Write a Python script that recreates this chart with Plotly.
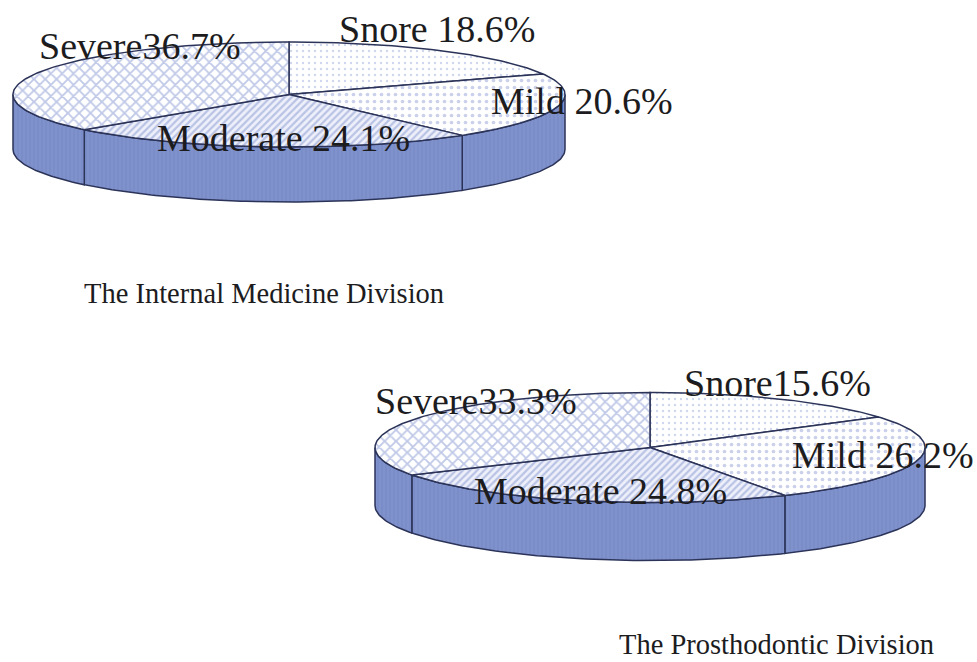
import numpy as np
import plotly.graph_objects as go

# Data
categories = ["Snore", "Mild", "Moderate", "Severe"]
medicine_values = [18.6, 20.6, 24.1, 36.7]
prostho_values = [15.6, 26.2, 24.8, 33.3]
medicine_labels = ["Snore 18.6%", "Mild 20.6%", "Moderate 24.1%", "Severe36.7%"]
prostho_labels = ["Snore15.6%", "Mild 26.2%", "Moderate 24.8%", "Severe33.3%"]
medicine_title = "The Internal Medicine Division"
prostho_title = "The Prosthodontic Division"

# Styling / layout
W, H = 977, 662
EDGE = "#2b3358"
TEXT = "#1c1c1e"
FONT = "Liberation Serif"
PATTERNS = {
    "Snore": dict(shape=".", size=6, solidity=0.12, fgcolor="#a0abd9", bgcolor="white"),
    "Mild": dict(shape=".", size=7, solidity=0.22, fgcolor="#98a4d6", bgcolor="white"),
    "Moderate": dict(shape="/", size=5, solidity=0.45, fgcolor="#8495cf", bgcolor="#eef0fa"),
    "Severe": dict(shape="x", size=8, solidity=0.4, fgcolor="#8091cf", bgcolor="white"),
}
WALL = dict(shape="|", size=4, solidity=0.3, fgcolor="#6f82bf", bgcolor="#8092cc")

PIES = [
    dict(values=medicine_values, labels=medicine_labels, cx=289, cy=94.5, rx=276, ry=52.5, depth=55,
         label_pos=[(337, 29), (489, 101), (155, 138), (37, 46)]),
    dict(values=prostho_values, labels=prostho_labels, cx=650, cy=447.5, rx=275, ry=55, depth=58,
         label_pos=[(682, 383), (790, 455), (472, 491), (373, 401)]),
]

fig = go.Figure()


def rim(p, a0, a1):
    t = np.radians(np.linspace(a0, a1, max(2, int(abs(a1 - a0)) + 2)))
    return p["cx"] + p["rx"] * np.sin(t), p["cy"] - p["ry"] * np.cos(t)


def add_shape(xs, ys, pattern, width=1.5):
    fig.add_trace(go.Scatter(
        x=xs, y=ys, mode="lines", fill="toself", fillpattern=pattern,
        fillcolor=pattern["bgcolor"],
        line=dict(color=EDGE, width=width), hoverinfo="skip", showlegend=False))


annotations = []
for p in PIES:
    shares = np.array(p["values"], dtype=float)
    edges = np.concatenate([[0], np.cumsum(shares) / shares.sum() * 360])
    # side walls: visible front half only, split at slice boundaries
    for a0, a1 in zip(edges[:-1], edges[1:]):
        lo, hi = max(a0, 90), min(a1, 270)
        if hi <= lo:
            continue
        x, y = rim(p, lo, hi)
        xs = np.concatenate([x, x[::-1], x[:1]])
        ys = np.concatenate([y, y[::-1] + p["depth"], y[:1]])
        add_shape(xs, ys, WALL)
    # top slices
    for cat, a0, a1 in zip(categories, edges[:-1], edges[1:]):
        x, y = rim(p, a0, a1)
        xs = np.concatenate([[p["cx"]], x, [p["cx"]]])
        ys = np.concatenate([[p["cy"]], y, [p["cy"]]])
        add_shape(xs, ys, PATTERNS[cat])
    for text, (lx, ly) in zip(p["labels"], p["label_pos"]):
        annotations.append(dict(x=lx, y=ly, text=text, showarrow=False, xanchor="left", yanchor="middle",
                                xref="x", yref="y", font=dict(family=FONT, size=38, color=TEXT)))

for text, tx, ty in [(medicine_title, 82, 293), (prostho_title, 617, 644)]:
    annotations.append(dict(x=tx, y=ty, text=text, showarrow=False, xanchor="left", yanchor="middle",
                            xref="x", yref="y", font=dict(family=FONT, size=28.5, color=TEXT)))

fig.update_layout(
    width=W, height=H, autosize=False,
    margin=dict(l=0, r=0, t=0, b=0),
    paper_bgcolor="white", plot_bgcolor="white",
    xaxis=dict(range=[0, W], visible=False, fixedrange=True),
    yaxis=dict(range=[H, 0], visible=False, fixedrange=True),
    annotations=annotations,
)
fig.write_html("out.html", config=dict(displayModeBar=False),
               post_script="document.body.style.margin='0';document.body.style.overflow='hidden';")
